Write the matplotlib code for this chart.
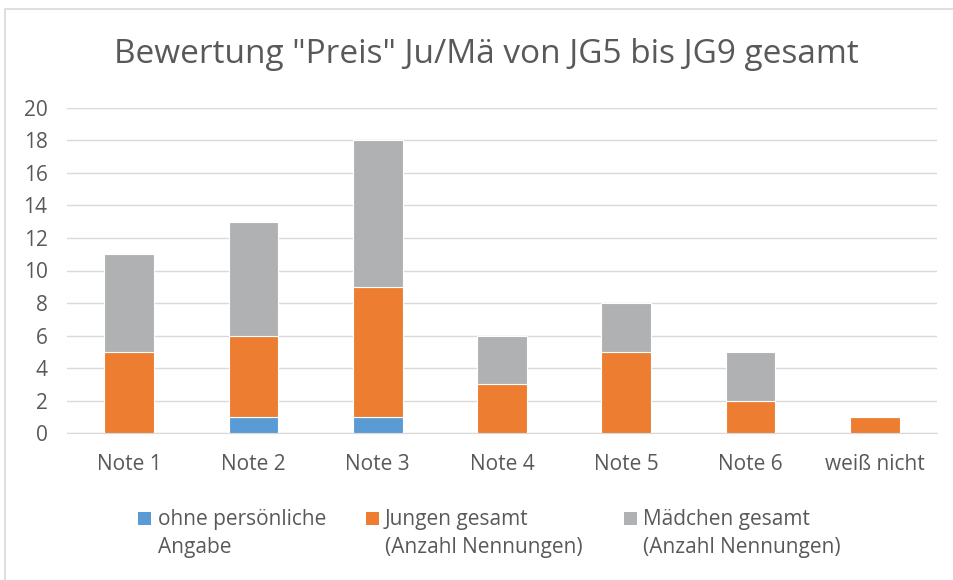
import matplotlib
matplotlib.use("Agg")
import matplotlib.pyplot as plt
from matplotlib.patches import Rectangle
import numpy as np

categories = ["Note 1", "Note 2", "Note 3", "Note 4", "Note 5", "Note 6", "weiß nicht"]
ohne_angabe = [0, 1, 1, 0, 0, 0, 0]
jungen = [5, 5, 8, 3, 5, 2, 1]
maedchen = [6, 7, 9, 3, 3, 3, 0]
series_labels = ["ohne persönliche\nAngabe", "Jungen gesamt\n(Anzahl Nennungen)", "Mädchen gesamt\n(Anzahl Nennungen)"]
title = 'Bewertung "Preis" Ju/Mä von JG5 bis JG9 gesamt'
yticks = list(range(0, 21, 2))

colors = ["#5B9BD5", "#ED7D31", "#B0B1B2"]
txt = "#595959"
plt.rcParams['font.family'] = ['Open Sans', 'DejaVu Sans']

W, H = 954, 580
fig = plt.figure(figsize=(W / 100, H / 100), dpi=100)
# chart-area border (only top and left visible in the reference)
fig.patches.append(Rectangle((5 / W, -0.1), 1.2, 1.1 - 9 / H, transform=fig.transFigure,
                             fill=False, edgecolor="#D9D9D9", linewidth=1.2))
ax = fig.add_axes([67 / W, 1 - 433.3 / H, 870 / W, (433.3 - 107.7) / H])

x = np.arange(len(categories))
w = 0.4
bottom = np.zeros(len(categories))
for vals, c in zip([ohne_angabe, jungen, maedchen], colors):
    v = np.array(vals, dtype=float)
    ax.bar(x, v, w, bottom=bottom, color=c, edgecolor="white", linewidth=0.8, zorder=3)
    bottom += v

ax.set_xlim(-0.5, len(categories) - 0.5)
ax.set_ylim(0, 20)
ax.set_yticks(yticks)
ax.set_xticks(x)
ax.set_xticklabels(categories)
ax.tick_params(axis='both', length=0, labelsize=15, colors=txt)
ax.tick_params(axis='x', pad=15)
ax.tick_params(axis='y', pad=14)
ax.grid(axis='y', color="#D9D9D9", linewidth=1, zorder=0)
for s in ["top", "right", "left"]:
    ax.spines[s].set_visible(False)
ax.spines["bottom"].set_color("#D9D9D9")

fig.text(486.5 / W, 1 - 63 / H, title, ha='center', va='baseline', fontsize=24, color=txt)

# legend (manual, marker aligned with first text line)
sq_x = [138, 366, 624]
tx_x = [158, 385, 643]
line_y = [525, 553]
for sx, tx, c, lab in zip(sq_x, tx_x, colors, series_labels):
    fig.patches.append(Rectangle((sx / W, 1 - 525 / H), 13 / W, 13 / H,
                                 transform=fig.transFigure, facecolor=c, edgecolor='none'))
    for ly, part in zip(line_y, lab.split("\n")):
        fig.text(tx / W, 1 - ly / H, part, ha='left', va='baseline', fontsize=15, color=txt)

fig.savefig("out.png", dpi=100)
